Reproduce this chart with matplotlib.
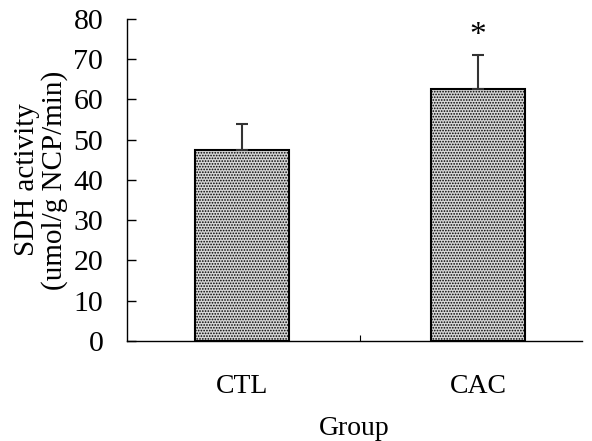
import matplotlib
matplotlib.use("Agg")
import matplotlib.pyplot as plt

groups = ["CTL", "CAC"]
means = [47.5, 62.5]
errors = [6.5, 8.5]
yticks = [0, 10, 20, 30, 40, 50, 60, 70, 80]
sig_marks = ["", "*"]

plt.rcParams['font.family'] = ['Liberation Serif', 'DejaVu Serif']
plt.rcParams['hatch.color'] = '#707070'
plt.rcParams['hatch.linewidth'] = 0.8

fig = plt.figure(figsize=(5.92, 4.41), dpi=100)
ax = fig.add_axes([0.2145, 0.2268, 0.7685, 0.7302])

x = list(range(len(groups)))
ax.bar(x, means, width=0.40, color='#d6d6d6', edgecolor='black', linewidth=1.5,
       hatch='......', zorder=2)
ax.errorbar(x, means, yerr=[[0]*len(errors), errors], fmt='none', ecolor='#333333',
            elinewidth=1.5, capsize=4, capthick=1.5, zorder=3)
for xi, m, e, s in zip(x, means, errors, sig_marks):
    if s:
        ax.text(xi, m + e + 1.0, s, ha='center', va='bottom', fontsize=24)

ax.set_xlim(-0.487, 1.44)
ax.set_ylim(0, 80)
ax.set_yticks(yticks)
ax.set_xticks(x)
ax.set_xticklabels(groups, fontsize=20)
ax.tick_params(axis='x', length=0, pad=24)
ax.set_xticks([0.5], minor=True)
ax.tick_params(axis='x', which='minor', direction='in', length=4, width=0.8)
ax.tick_params(axis='y', direction='in', length=6.5, width=1, labelsize=21.5, pad=17)
for s in ['top', 'right']:
    ax.spines[s].set_visible(False)
ax.spines['left'].set_linewidth(1)
ax.spines['bottom'].set_linewidth(1)
ax.set_ylabel("SDH activity\n(umol/g NCP/min)", fontsize=21, labelpad=4, linespacing=1.05)
ax.set_xlabel("Group", fontsize=20, labelpad=12)

fig.savefig("out.png", dpi=100)
